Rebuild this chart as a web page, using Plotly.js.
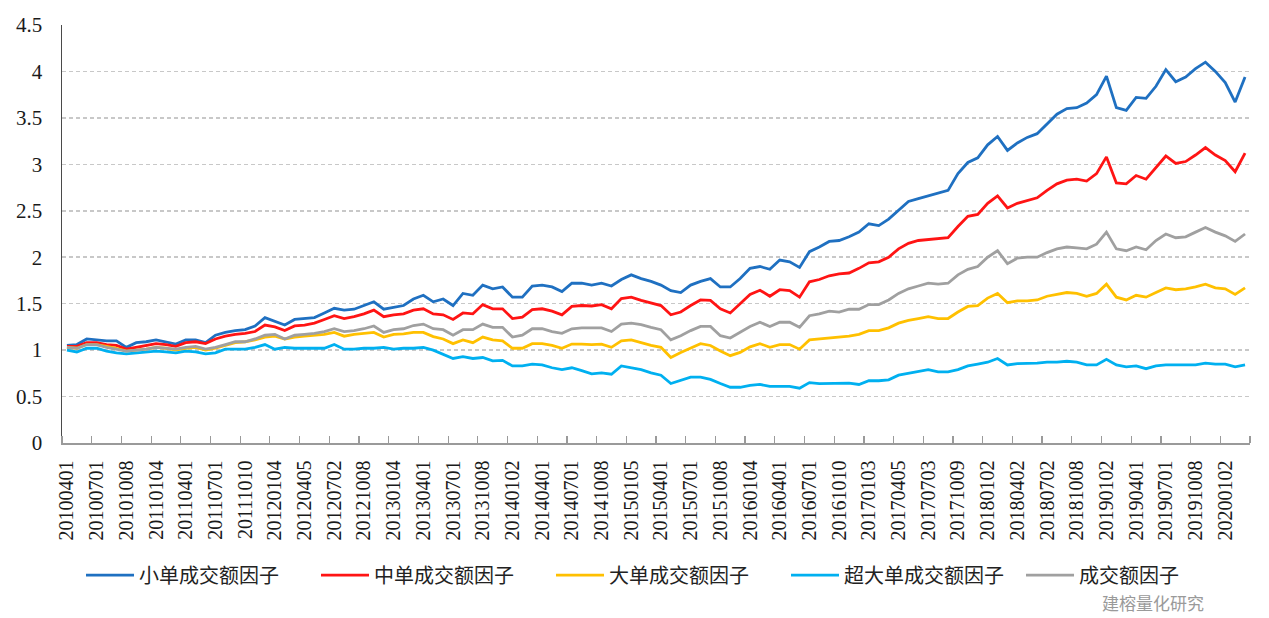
<!DOCTYPE html>
<html>
<head>
<meta charset="utf-8">
<script src="https://cdn.plot.ly/plotly-3.0.1.min.js"></script>
<style>
  html, body { margin: 0; padding: 0; background: #ffffff; }
  #chart { width: 1269px; height: 618px; }
</style>
</head>
<body>
<div id="chart"></div>
<script>
// Quarterly tick labels (every 3rd monthly observation)
const tickLabels = ["20100401","20100701","20101008","20110104","20110401","20110701","20111010","20120104","20120405","20120702","20121008","20130104","20130401","20130701","20131008","20140102","20140401","20140701","20141008","20150105","20150401","20150701","20151008","20160104","20160401","20160701","20161010","20170103","20170405","20170703","20171009","20180102","20180402","20180702","20181008","20190102","20190401","20190701","20191008","20200102"];

const seriesNames = ["小单成交额因子","中单成交额因子","大单成交额因子","超大单成交额因子","成交额因子"];

const smallOrder = [1.05,1.06,1.12,1.11,1.10,1.10,1.03,1.08,1.09,1.11,1.09,1.065,1.11,1.11,1.08,1.16,1.19,1.21,1.22,1.26,1.35,1.31,1.27,1.33,1.34,1.35,1.40,1.45,1.43,1.44,1.48,1.52,1.44,1.46,1.48,1.55,1.59,1.52,1.55,1.48,1.61,1.59,1.70,1.66,1.68,1.57,1.57,1.69,1.70,1.68,1.63,1.72,1.72,1.70,1.72,1.69,1.76,1.81,1.77,1.74,1.70,1.64,1.62,1.70,1.74,1.77,1.68,1.68,1.77,1.88,1.90,1.87,1.97,1.95,1.89,2.06,2.11,2.17,2.18,2.22,2.27,2.36,2.34,2.41,2.51,2.60,2.63,2.66,2.69,2.72,2.90,3.02,3.07,3.21,3.30,3.15,3.23,3.29,3.33,3.43,3.54,3.60,3.61,3.66,3.75,3.95,3.61,3.58,3.72,3.71,3.84,4.02,3.89,3.94,4.03,4.10,4.00,3.88,3.67,3.94];

const mediumOrder = [1.04,1.04,1.08,1.08,1.06,1.05,1.01,1.03,1.05,1.07,1.06,1.04,1.08,1.09,1.07,1.12,1.15,1.17,1.18,1.20,1.27,1.25,1.21,1.26,1.27,1.29,1.33,1.37,1.34,1.36,1.39,1.43,1.36,1.38,1.39,1.43,1.445,1.39,1.38,1.33,1.40,1.39,1.49,1.445,1.445,1.34,1.355,1.435,1.445,1.42,1.38,1.47,1.48,1.475,1.49,1.445,1.555,1.57,1.535,1.51,1.48,1.38,1.41,1.48,1.54,1.535,1.445,1.40,1.50,1.60,1.645,1.58,1.65,1.64,1.57,1.735,1.76,1.80,1.82,1.83,1.88,1.94,1.95,2.00,2.09,2.15,2.18,2.19,2.20,2.21,2.33,2.44,2.46,2.58,2.66,2.53,2.58,2.61,2.64,2.72,2.79,2.83,2.84,2.82,2.90,3.08,2.80,2.79,2.88,2.84,2.96,3.09,3.01,3.03,3.10,3.18,3.10,3.04,2.92,3.12];

const largeOrder = [1.03,1.02,1.06,1.06,1.04,1.02,0.99,1.00,1.01,1.03,1.02,1.00,1.02,1.03,1.00,1.02,1.05,1.08,1.09,1.11,1.14,1.15,1.12,1.14,1.15,1.16,1.17,1.19,1.15,1.17,1.18,1.19,1.14,1.17,1.175,1.19,1.19,1.145,1.12,1.07,1.11,1.08,1.14,1.11,1.10,1.02,1.02,1.07,1.07,1.05,1.02,1.065,1.065,1.06,1.065,1.03,1.10,1.11,1.08,1.05,1.03,0.92,0.975,1.02,1.07,1.05,0.99,0.94,0.975,1.035,1.07,1.03,1.06,1.06,1.01,1.11,1.12,1.13,1.14,1.15,1.17,1.21,1.21,1.24,1.29,1.32,1.34,1.36,1.34,1.34,1.41,1.47,1.48,1.56,1.61,1.51,1.53,1.53,1.54,1.58,1.60,1.62,1.61,1.58,1.61,1.71,1.57,1.54,1.59,1.57,1.62,1.67,1.65,1.66,1.68,1.71,1.67,1.66,1.60,1.67];

const superLargeOrder = [1.00,0.98,1.02,1.02,0.99,0.97,0.96,0.97,0.98,0.99,0.98,0.97,0.99,0.98,0.96,0.97,1.01,1.01,1.01,1.03,1.06,1.01,1.03,1.02,1.02,1.02,1.02,1.06,1.01,1.01,1.02,1.02,1.03,1.01,1.02,1.02,1.03,1.00,0.955,0.91,0.93,0.91,0.92,0.885,0.89,0.83,0.83,0.85,0.84,0.81,0.79,0.81,0.78,0.745,0.755,0.74,0.83,0.81,0.79,0.755,0.73,0.64,0.675,0.71,0.71,0.685,0.64,0.60,0.60,0.62,0.63,0.61,0.61,0.61,0.59,0.65,0.64,0.64,0.645,0.645,0.63,0.67,0.67,0.68,0.73,0.75,0.765,0.79,0.765,0.765,0.79,0.83,0.85,0.87,0.91,0.84,0.855,0.855,0.86,0.87,0.87,0.88,0.87,0.84,0.84,0.90,0.84,0.82,0.83,0.80,0.83,0.84,0.84,0.84,0.84,0.86,0.85,0.85,0.82,0.84];

const turnover = [1.03,1.02,1.06,1.06,1.03,1.01,0.99,1.00,1.01,1.03,1.02,1.01,1.03,1.04,1.01,1.03,1.06,1.09,1.09,1.12,1.16,1.17,1.12,1.16,1.17,1.18,1.20,1.23,1.20,1.21,1.23,1.26,1.19,1.22,1.23,1.265,1.28,1.23,1.22,1.16,1.22,1.22,1.28,1.245,1.245,1.14,1.16,1.23,1.23,1.20,1.18,1.23,1.24,1.24,1.24,1.20,1.28,1.29,1.275,1.245,1.22,1.11,1.155,1.21,1.255,1.255,1.155,1.13,1.19,1.255,1.30,1.255,1.30,1.30,1.245,1.37,1.39,1.42,1.41,1.44,1.44,1.49,1.49,1.54,1.61,1.66,1.69,1.72,1.71,1.72,1.81,1.87,1.90,2.00,2.07,1.93,1.99,2.00,2.00,2.05,2.09,2.11,2.10,2.09,2.14,2.27,2.09,2.07,2.11,2.08,2.18,2.25,2.21,2.22,2.27,2.32,2.27,2.23,2.17,2.25];

const seriesValues = [smallOrder, mediumOrder, largeOrder, superLargeOrder, turnover];
const seriesColors = ["#1f70c1", "#ff1414", "#ffc000", "#00b0f0", "#a0a0a0"];

const nPoints = smallOrder.length;
const xIndex = smallOrder.map((_, i) => i);
const tickIdx = tickLabels.map((_, k) => k * 3);

const traces = seriesNames.map((name, s) => ({
  type: 'scatter',
  mode: 'lines',
  name: name,
  x: xIndex,
  y: seriesValues[s],
  line: { color: seriesColors[s], width: 2.8 },
  hoverinfo: 'skip'
}));

const serif = 'Liberation Serif';

const layout = {
  width: 1269,
  height: 618,
  paper_bgcolor: '#ffffff',
  plot_bgcolor: '#ffffff',
  margin: { l: 62, r: 19, t: 25, b: 175 },
  showlegend: true,
  xaxis: {
    type: 'linear',
    range: [-0.5, nPoints - 0.5],
    tickmode: 'array',
    tickvals: tickIdx,
    ticktext: tickLabels,
    tickangle: -90,
    ticks: '',
    ticklabelstandoff: 8,
    showgrid: false,
    zeroline: false,
    showline: true,
    linecolor: '#9a9a9a',
    linewidth: 1.5,
    tickfont: { family: serif, size: 20, color: '#1a1a1a' },
    minor: {
      tickmode: 'linear',
      tick0: -0.5,
      dtick: 3,
      ticks: 'inside',
      ticklen: 7,
      tickwidth: 1.2,
      tickcolor: '#9a9a9a',
      showgrid: false
    },
    fixedrange: true
  },
  yaxis: {
    range: [0, 4.5],
    tickmode: 'linear',
    tick0: 0,
    dtick: 0.5,
    ticks: '',
    ticklabelstandoff: 14,
    showgrid: true,
    gridcolor: '#c8c8c8',
    gridwidth: 1.5,
    griddash: '4px,3px',
    zeroline: false,
    showline: true,
    linecolor: '#4a4a4a',
    linewidth: 1.5,
    tickfont: { family: serif, size: 21, color: '#1a1a1a' },
    fixedrange: true
  },
  legend: {
    orientation: 'h',
    x: 0.016,
    xanchor: 'left',
    y: -0.316,
    yanchor: 'middle',
    font: { family: 'Noto Sans CJK SC', size: 20, color: '#222222' },
    itemwidth: 48,
    entrywidth: 172,
    entrywidthmode: 'pixels',
    bgcolor: 'rgba(0,0,0,0)'
  },
  annotations: [{
    xref: 'paper', yref: 'paper',
    x: 0.874, y: -0.381,
    xanchor: 'left', yanchor: 'middle',
    text: '建榕量化研究',
    showarrow: false,
    font: { family: 'Noto Sans CJK SC', size: 17, color: '#9a9a9a' }
  }]
};

Plotly.newPlot('chart', traces, layout, { staticPlot: true, displayModeBar: false });
</script>
</body>
</html>
